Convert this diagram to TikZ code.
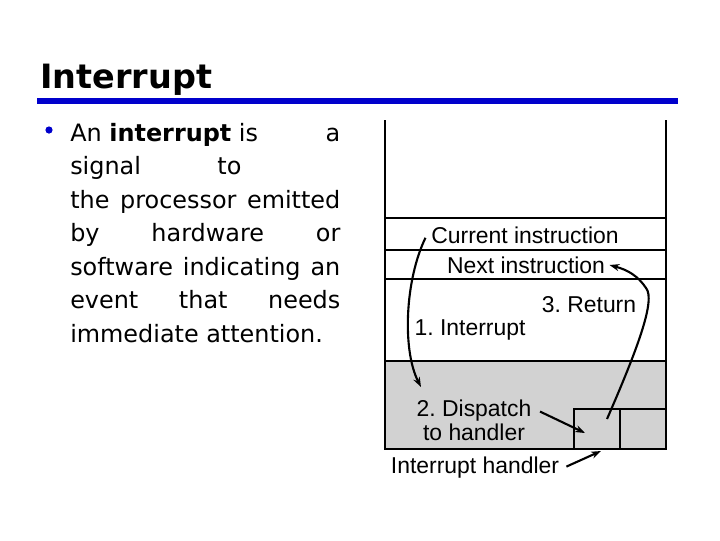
\documentclass[tikz,border=0pt]{standalone}
\usepackage{fontspec}
\setmainfont{DejaVu Sans}
\newfontfamily\figfont{Liberation Sans}
\usepackage{tikz}
\usetikzlibrary{positioning, arrows.meta}
\definecolor{slideblue}{RGB}{0,0,204}
\definecolor{stackgray}{RGB}{210,210,210}
\frenchspacing

\begin{document}
\begin{tikzpicture}[
  x=0.025cm, y=-0.025cm,
  lbl/.style={font=\figfont\fontsize{16.3}{19}\selectfont, inner sep=1pt},
  wall/.style={line width=2pt},
  rule/.style={line width=1.4pt},
  arrow/.style={-{Stealth[length=7pt, width=5pt]}, line width=1.5pt},
]
  \useasboundingbox (0,0) rectangle (720,540);

  % slide title and text
  \node[anchor=base west, inner sep=0, font=\bfseries\fontsize{23.8}{28}\selectfont] (title) at (40,88) {Interrupt};
  \draw[slideblue, line width=4.5pt] (37,101) -- (678,101);
  \fill[slideblue] (49,130) circle (3.6);
  \node[anchor=north west, inner sep=0, text width=6.75cm, align=justify,
        font=\fontsize{17}{23.8}\selectfont] (body) at (70,123)
    {An \textbf{interrupt} is\hfill a\linebreak signal\hspace{3.2em}to\hfill\linebreak the processor emitted\linebreak
     by hardware or\linebreak software indicating an\linebreak event that needs\linebreak
     immediate attention.};

  % memory stack
  \fill[stackgray] (385,361) rectangle (666,449);
  \draw[rule] (385,218) -- (666,218);
  \draw[rule] (385,250) -- (666,250);
  \draw[rule] (385,279) -- (666,279);
  \draw[rule] (385,361) -- (666,361);
  \draw[rule] (385,449) -- (666,449);
  \draw[rule] (574,449) -- (574,409) -- (666,409);
  \draw[rule] (620,409) -- (620,449);
  \draw[wall] (385,120) -- (385,450);
  \draw[wall] (666,120) -- (666,450);
  \coordinate (hbox) at (597,429);
  \coordinate (land) at (421,387);

  \node[lbl] (cur)   at (525,235) {Current instruction};
  \node[lbl] (next)  at (526,265) {Next instruction};
  \node[lbl] (ret)   at (589,305) {3. Return};
  \node[lbl] (intr)  at (470,330) {1. Interrupt};
  \node[lbl, align=center, font=\figfont\fontsize{16.3}{17}\selectfont] (disp) at (474,420) {2. Dispatch\\to handler};
  \node[lbl] (hlabel) at (475,468) {Interrupt handler};

  \draw[arrow] ([xshift=-3pt, yshift=-2pt]cur.west) .. controls (405,280) and (402,350) .. (land);
  \draw[arrow] ([xshift=5pt, yshift=6pt]disp.east) -- ([xshift=-0.3cm, yshift=-0.1cm]hbox);
  \draw[arrow] ([xshift=4pt, yshift=1pt]hlabel.east) -- ([xshift=0.1cm]hbox |- 0,451);
  \draw[arrow] ([xshift=0.25cm, yshift=0.25cm]hbox) .. controls (637,350) and (656,300) .. (646,288)
    .. controls (638,276) and (628,270) .. ([xshift=2pt]next.east);
\end{tikzpicture}
\end{document}
